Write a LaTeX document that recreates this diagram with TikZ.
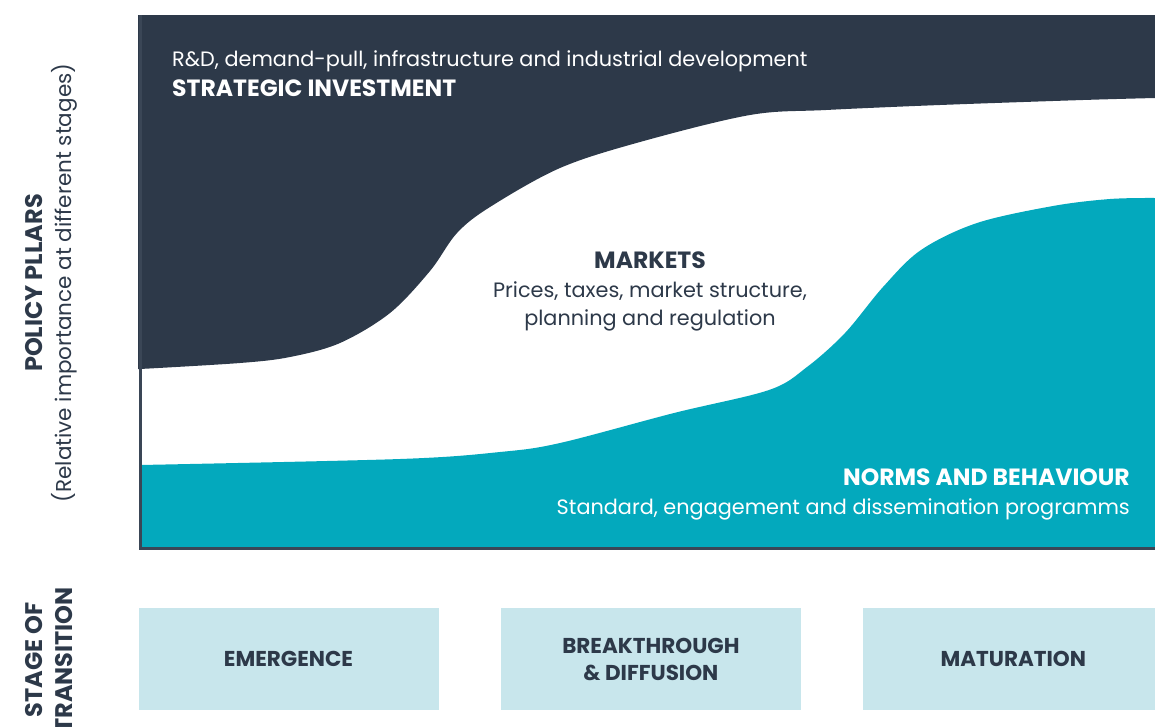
\documentclass[tikz,border=0pt]{standalone}
\usepackage{fontspec}
\setmainfont{Poppins}
\usetikzlibrary{positioning}
\definecolor{pillarnavy}{HTML}{2D3949}
\definecolor{pillarteal}{HTML}{03A9BD}
\definecolor{stagefill}{HTML}{C8E6EC}
\definecolor{axisgrey}{HTML}{3A4656}
\tikzset{
  heading/.style={font=\bfseries\fontsize{23.5}{29}\selectfont,inner sep=0pt},
  blurb/.style={font=\fontsize{20.8}{29}\selectfont,inner sep=0pt},
  stagebox/.style={fill=stagefill,minimum width=300pt,minimum height=102pt,
    inner sep=0pt,align=center,text=pillarnavy,
    font=\bfseries\fontsize{21.5}{27}\selectfont},
  axisline/.style={draw=axisgrey,line width=3pt}
}

\begin{document}
\begin{tikzpicture}[x=1pt,y=-1pt,node distance=62pt]
  \useasboundingbox (0,0) rectangle (1155,726);
  % strategic investment band, falling off as the transition matures
  \fill[pillarnavy] (138,15) -- (1155,15) -- (1155,98)
    -- plot[smooth,tension=0.55] coordinates {(1155,98) (1083,100) (940,105) (826,110)
      (750,115) (640,142) (560,168) (490,207) (457,233) (430,271) (390,313)
      (340,343) (290,357) (240,363) (140,369)}
    -- (138,369) -- cycle;
  % norms and behaviour band, growing late
  \fill[pillarteal] (140,548) -- (140,465)
    -- plot[smooth,tension=0.55] coordinates {(140,465) (400,459) (500,452)
      (560,443) (674,413) (769,390) (807,367) (845,333) (883,287) (921,250)
      (977,223) (1053,206) (1110,199) (1155,198)}
    -- (1155,548) -- cycle;
  % axes
  \draw[axisline] (140,15) -- (140,548) -- (1155,548);

  \node[blurb,text=white,anchor=base west] (investnote) at (172,66)
    {R\&D, demand-pull, infrastructure and industrial development};
  \node[heading,text=white,anchor=base west] (investtitle) at (172,96)
    {STRATEGIC INVESTMENT};

  \node[heading,text=pillarnavy,anchor=base] (marketstitle) at (650,268) {MARKETS};
  \node[blurb,text=pillarnavy,anchor=base] (pricesnote) at (650,297)
    {Prices, taxes, market structure,};
  \node[blurb,text=pillarnavy,anchor=base] (planningnote) at (650,325)
    {planning and regulation};

  \node[heading,text=white,anchor=base east] (normstitle) at (1130,485)
    {NORMS AND BEHAVIOUR};
  \node[blurb,text=white,anchor=base east] (normsnote) at (1130,514)
    {Standard, engagement and dissemination programms};

  \node[heading,text=pillarnavy,rotate=90,font=\bfseries\fontsize{24}{29}\selectfont]
    (pillars) at (34,283) {POLICY PLLARS};
  \node[blurb,text=pillarnavy,rotate=90,font=\fontsize{21.5}{29}\selectfont]
    (importance) at (64,283) {(Relative importance at different stages)};
  \node[heading,text=pillarnavy,rotate=90,align=center,
    font=\bfseries\fontsize{24}{30}\selectfont] (transition) at (49,660)
    {STAGE OF\\TRANSITION};

  \node[stagebox] (emergence) at (288.5,659) {EMERGENCE};
  \node[stagebox,right=of emergence] (breakthrough) {BREAKTHROUGH\\\& DIFFUSION};
  \node[stagebox,right=of breakthrough] (maturation) {MATURATION};
\end{tikzpicture}
\end{document}
